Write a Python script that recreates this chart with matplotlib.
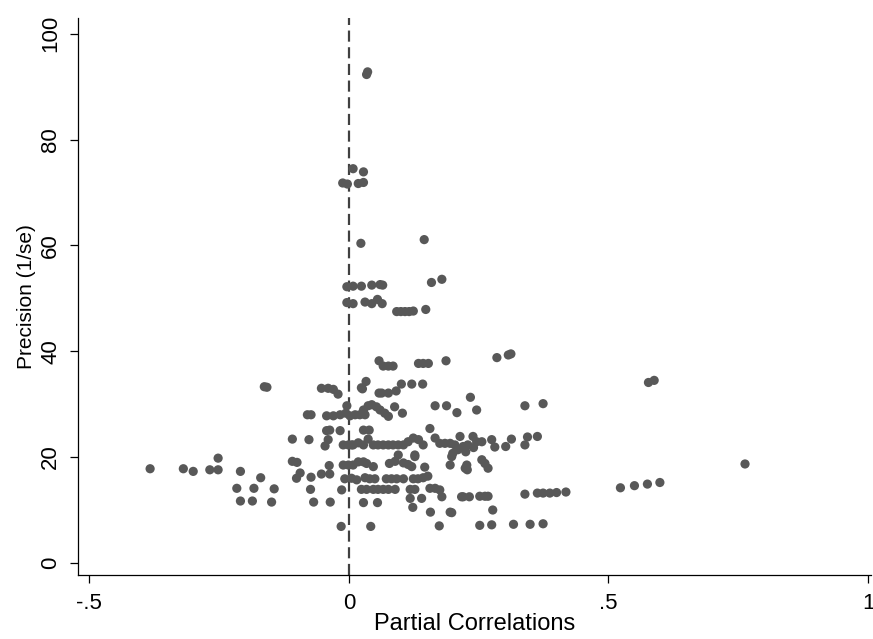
import matplotlib
matplotlib.use("Agg")
import matplotlib.pyplot as plt
import numpy as np

plt.rcParams['font.family'] = ['Liberation Sans', 'DejaVu Sans']

# ---- data: partial correlations (x) and precision 1/se (y) ----
# high precision studies (> 40)
high_x = [0.034, 0.036, 0.008, 0.028, -0.012, -0.003, 0.018, 0.028, 0.023, 0.145,
          0.159, 0.179,
          -0.004, 0.008, 0.024, 0.044, 0.060, 0.065,
          -0.004, 0.008, 0.031, 0.044, 0.055, 0.064,
          0.092, 0.100, 0.108, 0.116, 0.124, 0.148]
high_y = [92.3, 92.8, 74.5, 73.9, 71.8, 71.6, 71.7, 71.9, 60.4, 61.1,
          53.0, 53.6,
          52.2, 52.3, 52.3, 52.5, 52.6, 52.5,
          49.2, 49.0, 49.3, 49.0, 49.8, 49.0,
          47.5, 47.5, 47.5, 47.5, 47.6, 47.9]

# medium precision studies (25 - 40)
mid_x = [0.058, 0.066, 0.076, 0.085, 0.134, 0.143, 0.153, 0.187, 0.285, 0.307, 0.312,
         0.577, 0.588, -0.163, -0.158, -0.053, -0.040, -0.030, -0.021,
         0.024, 0.033, 0.026, 0.058, 0.063, 0.076, 0.091, 0.101, 0.121, 0.142, 0.234,
         -0.080, -0.073, -0.043, -0.030, -0.017, -0.006, 0.002, -0.004,
         0.012, 0.021, 0.031, 0.028, 0.037, 0.044, 0.053, 0.060, 0.069, 0.076,
         0.088, 0.103, 0.166, 0.188, 0.208, 0.246, 0.339, 0.374,
         -0.043, -0.037, -0.017, 0.028, 0.039, 0.156]
mid_y = [38.2, 37.2, 37.2, 37.2, 37.7, 37.7, 37.7, 38.2, 38.8, 39.3, 39.5,
         34.1, 34.5, 33.3, 33.2, 33.0, 33.0, 32.8, 31.9,
         33.1, 34.3, 32.9, 32.1, 32.1, 32.1, 32.5, 33.8, 33.8, 33.8, 31.3,
         28.0, 28.0, 27.8, 27.8, 28.0, 28.3, 27.8, 29.7,
         28.0, 28.0, 28.0, 28.9, 29.7, 29.9, 29.5, 28.9, 28.3, 27.7,
         29.5, 28.3, 29.7, 29.7, 28.4, 28.9, 29.7, 30.1,
         25.0, 25.1, 25.0, 25.1, 25.1, 25.4]

# core studies (15 - 25)
core_x = [-0.109, -0.077, -0.040, -0.046, -0.011, 0.005,
          -0.001, 0.008, 0.018, 0.028, 0.037, 0.047, 0.056, 0.066, 0.076, 0.085,
          0.095, 0.105, 0.114, 0.124, 0.134, 0.143,
          0.166, 0.175, 0.185, 0.195, 0.200, 0.204, 0.214, 0.220, 0.229, 0.239,
          0.246, 0.256, 0.210, 0.225, 0.240,
          0.275, 0.281, 0.302, 0.313, 0.339, 0.344, 0.363,
          0.095, 0.127,
          -0.109, -0.100, -0.094, -0.101, -0.073, -0.038, -0.053, -0.037,
          -0.011, -0.001, 0.008, 0.018, 0.028, 0.034, 0.047,
          0.078, 0.089, 0.105, 0.114, 0.121, 0.127, 0.146, 0.195, 0.198, 0.224,
          0.227, 0.228, 0.256, 0.262, 0.268, 0.763,
          -0.383, -0.319, -0.300, -0.268, -0.252, -0.252, -0.209, -0.170,
          -0.008, 0.005, 0.015, 0.031, 0.040, 0.050, 0.072, 0.082, 0.092, 0.105,
          0.124, 0.133, 0.143, 0.152]
core_y = [23.4, 23.3, 23.3, 22.1, 22.3, 22.3,
          22.3, 22.3, 22.7, 22.3, 23.4, 22.3, 22.3, 22.3, 22.3, 22.3,
          22.3, 22.3, 22.9, 23.6, 23.3, 22.3,
          23.6, 22.6, 22.6, 22.6, 20.7, 22.3, 23.9, 22.0, 22.3, 23.9,
          22.9, 22.9, 21.4, 21.0, 21.8,
          23.3, 21.9, 22.0, 23.4, 22.3, 23.8, 23.9,
          20.4, 20.4,
          19.2, 19.0, 17.0, 16.0, 16.2, 18.4, 16.8, 16.8,
          18.5, 18.5, 18.5, 19.1, 19.1, 18.8, 18.2,
          18.8, 19.2, 18.9, 18.6, 18.2, 20.1, 18.1, 18.5, 20.1, 17.9,
          18.5, 17.6, 19.5, 18.8, 17.9, 18.7,
          17.8, 17.8, 17.3, 17.6, 17.6, 19.8, 17.3, 16.1,
          15.9, 16.0, 15.7, 16.1, 15.9, 15.9, 15.9, 15.9, 15.9, 15.9,
          15.9, 15.9, 16.1, 16.4]

# low precision studies (< 15)
low_x = [-0.014, 0.024, 0.034, 0.047, 0.056, 0.066, 0.076, 0.089, 0.118, 0.127,
         0.156, 0.166, 0.175,
         -0.216, -0.183, -0.144, -0.074,
         0.118, 0.140, 0.179, 0.217, 0.220, 0.232, 0.252, 0.262, 0.268,
         0.339, 0.363, 0.374, 0.387, 0.400, 0.418,
         0.523, 0.550, 0.575, 0.599,
         -0.209, -0.186, -0.149, -0.068, -0.036, 0.028, 0.055,
         0.123, 0.157, 0.195, 0.198, 0.277,
         -0.015, 0.042, 0.174, 0.252, 0.275, 0.317, 0.349, 0.374]
low_y = [13.8, 13.9, 13.9, 13.9, 13.9, 13.9, 13.9, 13.9, 13.9, 13.9,
         14.1, 14.1, 13.8,
         14.1, 14.1, 14.0, 13.9,
         12.2, 12.2, 12.5, 12.5, 12.5, 12.5, 12.6, 12.6, 12.6,
         13.0, 13.2, 13.2, 13.2, 13.3, 13.4,
         14.2, 14.6, 14.9, 15.2,
         11.7, 11.7, 11.5, 11.5, 11.5, 11.4, 11.4,
         10.5, 9.6, 9.6, 9.5, 10.0,
         6.9, 6.9, 7.0, 7.1, 7.2, 7.3, 7.3, 7.4]

x_ticks = [-0.5, 0, 0.5, 1]
x_tick_labels = ["-.5", "0", ".5", "1"]
y_ticks = [0, 20, 40, 60, 80, 100]

x_all = np.array(high_x + mid_x + core_x + low_x)
y_all = np.array(high_y + mid_y + core_y + low_y)

fig = plt.figure(figsize=(8.73, 6.39), dpi=100)
ax = fig.add_axes([0.0893, 0.100, 0.908, 0.872])

dot = "#585858"
ax.scatter(x_all, y_all, s=44, color=dot, edgecolors="none", zorder=3)
ax.axvline(0, color="#404040", linewidth=1.6, linestyle=(0, (5, 2.5)), zorder=2)

ax.set_xlim(-0.522, 1.005)
ax.set_ylim(-2.3, 103.0)

ax.set_xticks(x_ticks)
ax.set_xticklabels(x_tick_labels)
ax.set_yticks(y_ticks)
ax.set_yticklabels([str(v) for v in y_ticks], rotation=90, va="center")

ax.tick_params(axis="both", direction="out", length=6, width=0.9, color="black")
ax.tick_params(axis="x", labelsize=16, pad=7)
ax.tick_params(axis="y", labelsize=16, pad=6)
ax.spines["top"].set_visible(False)
ax.spines["right"].set_visible(False)
for sp in ("left", "bottom"):
    ax.spines[sp].set_linewidth(0.9)

ax.set_xlabel("Partial Correlations", fontsize=17, labelpad=-1)
ax.set_ylabel("Precision (1/se)", fontsize=15, labelpad=3)

fig.savefig("out.png", dpi=100, facecolor="white")
